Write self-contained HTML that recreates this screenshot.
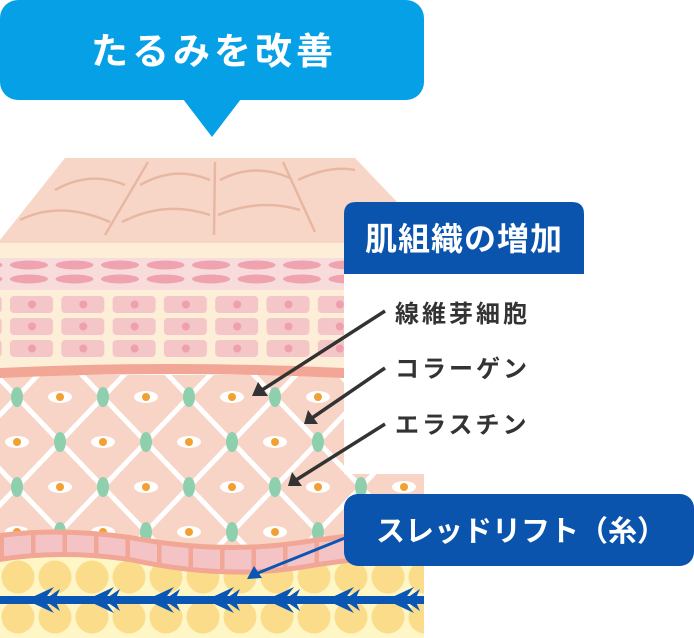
<!DOCTYPE html>
<html><head><meta charset="utf-8"><style>
html,body{margin:0;padding:0;background:#fff}
svg{display:block}
text{font-family:"Liberation Sans","Noto Sans CJK JP",sans-serif}
</style></head><body>
<svg width="694" height="638" viewBox="0 0 694 638" xmlns="http://www.w3.org/2000/svg">
<defs>
<pattern id="grid" patternUnits="userSpaceOnUse" x="17" y="37" width="86" height="90">
<rect width="86" height="90" fill="#f7d4c6"/>
<path d="M0 0L86 90M86 0L0 90" stroke="#fff" stroke-width="5"/>
<ellipse cx="43" cy="0" rx="12" ry="6" fill="#fff"/><circle cx="43" cy="0" r="4" fill="#f3a033"/>
<ellipse cx="43" cy="90" rx="12" ry="6" fill="#fff"/><circle cx="43" cy="90" r="4" fill="#f3a033"/>
<ellipse cx="0" cy="45" rx="12" ry="6" fill="#fff"/><circle cx="0" cy="45" r="4" fill="#f3a033"/>
<ellipse cx="86" cy="45" rx="12" ry="6" fill="#fff"/><circle cx="86" cy="45" r="4" fill="#f3a033"/>
<ellipse cx="0" cy="0" rx="6" ry="10" fill="#8ecfae"/><ellipse cx="86" cy="0" rx="6" ry="10" fill="#8ecfae"/>
<ellipse cx="0" cy="90" rx="6" ry="10" fill="#8ecfae"/><ellipse cx="86" cy="90" rx="6" ry="10" fill="#8ecfae"/>
<ellipse cx="43" cy="45" rx="6" ry="10" fill="#8ecfae"/>
</pattern>
<pattern id="fat" patternUnits="userSpaceOnUse" x="0" y="560" width="37" height="40">
<rect width="37" height="40" fill="#fff6c6"/>
<circle cx="18" cy="17" r="16.5" fill="#fbdc8a"/>
</pattern>
<pattern id="ell" patternUnits="userSpaceOnUse" x="10" y="258" width="45.5" height="32">
<ellipse cx="19" cy="7" rx="19" ry="4.5" fill="#eea3ae"/>
<ellipse cx="19" cy="21" rx="19" ry="4.5" fill="#eea3ae"/>
</pattern>
<pattern id="cells" patternUnits="userSpaceOnUse" x="10" y="296" width="51.3" height="22">
<rect x="0" y="0" width="43" height="17" rx="4" fill="#f4c6c8"/>
<circle cx="22" cy="8.5" r="4" fill="#eea0ad"/>
</pattern>
<pattern id="bcells" patternUnits="userSpaceOnUse" x="4" y="0" width="31.5" height="638">
<rect x="0" y="0" width="27" height="638" rx="4" fill="#f4c3c6"/>
</pattern>
</defs>
<!-- callout -->
<rect x="0" y="0" width="424" height="100" rx="18" fill="#05a0e6"/>
<path d="M183 99L241 99L212 137Z" fill="#05a0e6"/>
<text x="214" y="64" font-size="37" font-weight="bold" fill="#fff" text-anchor="middle" letter-spacing="4">たるみを改善</text>
<!-- skin top surface -->
<path d="M65 158L355 158L400 205L400 243L0 243L0 240Z" fill="#f8d6c7"/>
<g fill="none" stroke="#e8b7a2" stroke-width="2.5">
<path d="M55 190Q90 170 125 185"/><path d="M20 220Q60 200 110 222"/>
<path d="M140 185Q175 165 210 180"/><path d="M122 222Q165 200 210 215"/>
<path d="M220 180Q255 162 290 178"/><path d="M218 215Q260 198 300 210"/>
<path d="M298 180Q330 165 355 170"/>
<path d="M148 162L105 235"/><path d="M215 162L214 235"/><path d="M283 162L315 232"/>
</g>
<rect x="0" y="243" width="344" height="15" fill="#fdeed7"/>
<rect x="0" y="258" width="344" height="32" fill="#f8dcdc"/>
<rect x="0" y="258" width="344" height="32" fill="url(#ell)"/>
<rect x="0" y="290" width="344" height="80" fill="#fdeed7"/>
<rect x="0" y="296" width="344" height="66" fill="url(#cells)"/>
<!-- dermis -->
<path d="M0 375L344 375L344 474L424 474L424 560L0 560Z" fill="url(#grid)"/>
<path d="M0 368Q170 360 344 368L344 378Q170 370 0 378Z" fill="#f1a696"/>
<!-- lower band -->
<path d="M0 533Q60 525 130 535Q220 552 300 540Q360 530 424 530L424 640L0 640Z" fill="url(#fat)"/>
<path d="M0 533Q60 525 130 535Q220 552 300 540Q360 530 424 530L424 556Q360 560 300 570Q220 582 130 562Q60 552 0 562Z" fill="#f1a696"/>
<path d="M0 538Q60 530 130 540Q220 557 300 545Q360 536 424 536L424 551Q360 555 300 565Q220 577 130 557Q60 547 0 557Z" fill="url(#bcells)"/>
<!-- thread -->
<rect x="0" y="596" width="424" height="8" fill="#0a56b4"/>
<g fill="#0a56b4">
<path id="ch" d="M26 600L54 587L44 600L54 613Z M44 600L60 589L55 600L60 611Z"/>
<use href="#ch" x="60"/><use href="#ch" x="120"/><use href="#ch" x="180"/><use href="#ch" x="240"/><use href="#ch" x="300"/><use href="#ch" x="360"/>
</g>
<!-- label boxes -->
<path d="M344 214Q344 202 356 202L572 202Q584 202 584 214L584 274L344 274Z" fill="#0a54ad"/>
<text x="464" y="250" font-size="32" font-weight="bold" fill="#fff" text-anchor="middle" letter-spacing="1">肌組織の増加</text>
<rect x="344" y="494" width="350" height="72" rx="14" fill="#0a54ad"/>
<text x="521" y="541" font-size="29" font-weight="bold" fill="#fff" text-anchor="middle">スレッドリフト（糸）</text>
<!-- labels -->
<g font-size="24" fill="#333" font-weight="bold" letter-spacing="3">
<text x="395" y="322">線維芽細胞</text>
<text x="395" y="377">コラーゲン</text>
<text x="395" y="433">エラスチン</text>
</g>
<g stroke="#333" stroke-width="3.5" fill="none">
<path d="M385 311L262 390"/><path d="M385 368L312 418"/><path d="M385 424L296 480"/>
</g>
<g fill="#333">
<path d="M252 396L258 382L268 396Z"/><path d="M304 424L308 410L318 424Z"/><path d="M288 486L292 472L302 486Z"/>
</g>
<path d="M345 538L258 573" stroke="#0a56b4" stroke-width="3"/>
<path d="M247 579L254 566L262 578Z" fill="#0a56b4"/>
</svg>
</body></html>
